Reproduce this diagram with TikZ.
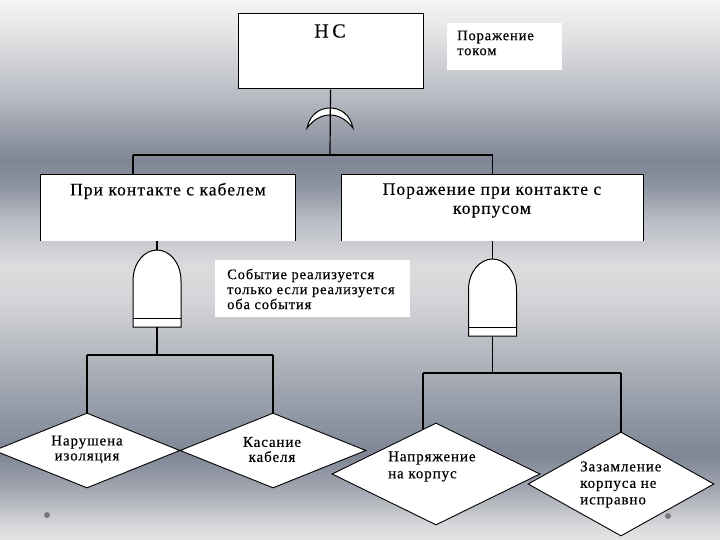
\documentclass[tikz,border=0pt]{standalone}
\usepackage{fontspec}
\setmainfont{Liberation Serif}
\newfontfamily\rs[LetterSpace=6,FakeBold=0.4]{Liberation Serif}
\newfontfamily\rw[LetterSpace=18,FakeBold=0.4]{Liberation Serif}
\usetikzlibrary{shapes.geometric}
\definecolor{g0}{HTML}{F4F4F4}
\definecolor{g1}{HTML}{E0E0E2}
\definecolor{g2}{HTML}{B4B8C0}
\definecolor{g3}{HTML}{7E8594}
\definecolor{g4}{HTML}{8C92A0}
\definecolor{g5}{HTML}{B8BCC4}
\definecolor{g6}{HTML}{DCDCDE}
\definecolor{g7}{HTML}{D4D5D8}
\definecolor{g8}{HTML}{B0B4BC}
\definecolor{g9}{HTML}{8E95A2}
\definecolor{g10}{HTML}{7E8696}
\definecolor{g11}{HTML}{A4A8B2}
\definecolor{g12}{HTML}{D8D8DC}
\definecolor{g13}{HTML}{E4E4E6}
\definecolor{dotc}{HTML}{7A7A7A}
\tikzset{
  band/.style n args={2}{top color=#1, bottom color=#2, draw=none},
  whitebox/.style={fill=white, draw=none, inner sep=0pt, rectangle},
  framebox/.style={fill=white, draw=black, line width=1pt, inner sep=0pt, rectangle},
  dia/.style={diamond, shape aspect=2.4, fill=white, draw=black, line width=0.9pt, inner sep=0pt},
  conn/.style={draw=black, line width=1.2pt},
  bigtxt/.style={font=\rs\fontsize{17.5}{19}\selectfont, inner sep=0pt, align=center},
  smalltxt/.style={font=\rs\fontsize{15}{15}\selectfont, inner sep=0pt},
  andgate/.pic={
    \draw[fill=white, line width=1pt] (-24,77) -- (-24,31) .. controls (-24,12) and (-12,0) .. (0,0)
      .. controls (12,0) and (24,12) .. (24,31) -- (24,77) -- cycle;
    \draw[line width=1pt] (-24,68) -- (24,68);
    \coordinate (-top) at (0,0);
    \coordinate (-bot) at (0,77);
  },
  orgate/.pic={
    \draw[fill=white, line width=1pt] (-23,20) .. controls (-20,6) and (-10,0) .. (0,0)
      .. controls (10,0) and (20,6) .. (23,20) .. controls (16,11) and (8,7) .. (0,7)
      .. controls (-8,7) and (-16,11) .. (-23,20) -- cycle;
  }
}
\begin{document}
\begin{tikzpicture}[x=1pt,y=-1pt]
\useasboundingbox (0,0) rectangle (720,540);
% background gradient
\fill[band={g0}{g1}] (0,0) rectangle (720,40.5);
\fill[band={g1}{g2}] (0,40) rectangle (720,100.5);
\fill[band={g2}{g3}] (0,100) rectangle (720,160.5);
\fill[band={g3}{g4}] (0,160) rectangle (720,185.5);
\fill[band={g4}{g5}] (0,185) rectangle (720,220.5);
\fill[band={g5}{g6}] (0,220) rectangle (720,265.5);
\fill[band={g6}{g7}] (0,265) rectangle (720,300.5);
\fill[band={g7}{g8}] (0,300) rectangle (720,360.5);
\fill[band={g8}{g9}] (0,360) rectangle (720,420.5);
\fill[band={g9}{g10}] (0,420) rectangle (720,455.5);
\fill[band={g10}{g11}] (0,455) rectangle (720,490.5);
\fill[band={g11}{g12}] (0,490) rectangle (720,525.5);
\fill[band={g12}{g13}] (0,525) rectangle (720,540);

% top event box
\node[framebox, minimum width=185pt, minimum height=75pt] (top) at (330.5,51.5) {};
\node[font=\rw\fontsize{20}{21}\selectfont, inner sep=0pt] (toptxt) at (330,31) {НС};
% note 1
\node[whitebox, minimum width=115pt, minimum height=47pt] (note1) at (504.5,46.5) {};
\node[font=\rs\fontsize{14.5}{15}\selectfont, inner sep=0pt, align=left, anchor=west] (note1txt) at (457,43) {Поражение\\током};

% OR gate
\pic at (330,108) {orgate};
\coordinate (j0) at (330,155);
\coordinate (j1) at (133,155);
\coordinate (j2) at (492.5,155);
\draw[conn] (top.south) -- (j0);
\draw[conn] (j1) -- (j2);

% level-2 boxes
\node[whitebox, minimum width=254pt, minimum height=66pt] (b1) at (168,208) {};
\draw[line width=1.2pt] (b1.south west) |- (b1.north east) -- (b1.south east);
\node[bigtxt] (b1txt) at (168,191) {При контакте с кабелем};
\node[whitebox, minimum width=301pt, minimum height=66pt] (b2) at (492.5,208) {};
\draw[line width=1.2pt] (b2.south west) |- (b2.north east) -- (b2.south east);
\node[bigtxt] (b2txt) at (492,200.5) {Поражение при контакте с\\корпусом};
\draw[conn] (j1) -- (j1 |- b1.north);
\draw[conn] (j2) -- (b2.north);

% note 2
\node[whitebox, minimum width=195pt, minimum height=57pt] (note2) at (312.5,288.5) {};
\node[font=\rs\fontsize{14.5}{15}\selectfont, inner sep=0pt, align=left, anchor=west] (note2txt) at (227,289) {Событие реализуется\\только если реализуется\\оба события};

% AND gates
\pic (g1) at (157,250) {andgate};
\pic (g2) at (492.5,259) {andgate};
\draw[conn] (b1.south -| g1-top) -- (g1-top);
\draw[conn] (b2.south) -- (g2-top);

\coordinate (j3) at (157,355);
\coordinate (j4) at (87,355);
\coordinate (j5) at (273,355);
\coordinate (j6) at (492.5,373);
\coordinate (j7) at (423,373);
\coordinate (j8) at (621,373);
\draw[conn] (g1-bot) -- (j3);
\draw[conn] (j4) -- (j5);
\draw[conn] (g2-bot) -- (j6);
\draw[conn] (j7) -- (j8);

% basic events
\node[dia, minimum width=186pt, minimum height=75pt] (d1) at (87,450.5) {};
\node[smalltxt, align=center] (d1txt) at (87,449.5) {Нарушена\\изоляция};
\node[dia, minimum width=186pt, minimum height=75pt] (d2) at (273,450.5) {};
\node[smalltxt, align=center] (d2txt) at (272,449.5) {Касание\\кабеля};
\node[dia, minimum width=208pt, minimum height=102pt] (d3) at (436,474) {};
\node[smalltxt, align=left, anchor=west, font=\rs\fontsize{15}{17}\selectfont] (d3txt) at (388,466.5) {Напряжение\\на корпус};
\node[dia, minimum width=186pt, minimum height=104pt] (d4) at (621,484) {};
\node[smalltxt, align=left, anchor=west, font=\rs\fontsize{15}{16.5}\selectfont] (d4txt) at (580,484.5) {Зазамление\\корпуса не\\исправно};

\draw[conn] (j4) -- (d1.north);
\draw[conn] (j5) -- (d2.north);
\draw[conn] (j7) -- (j7 |- d3.106);
\draw[conn] (j8) -- (d4.north);

% dots
\fill[dotc] (47,515) circle (3pt);
\fill[dotc] (668,516) circle (3pt);
\end{tikzpicture}
\end{document}
